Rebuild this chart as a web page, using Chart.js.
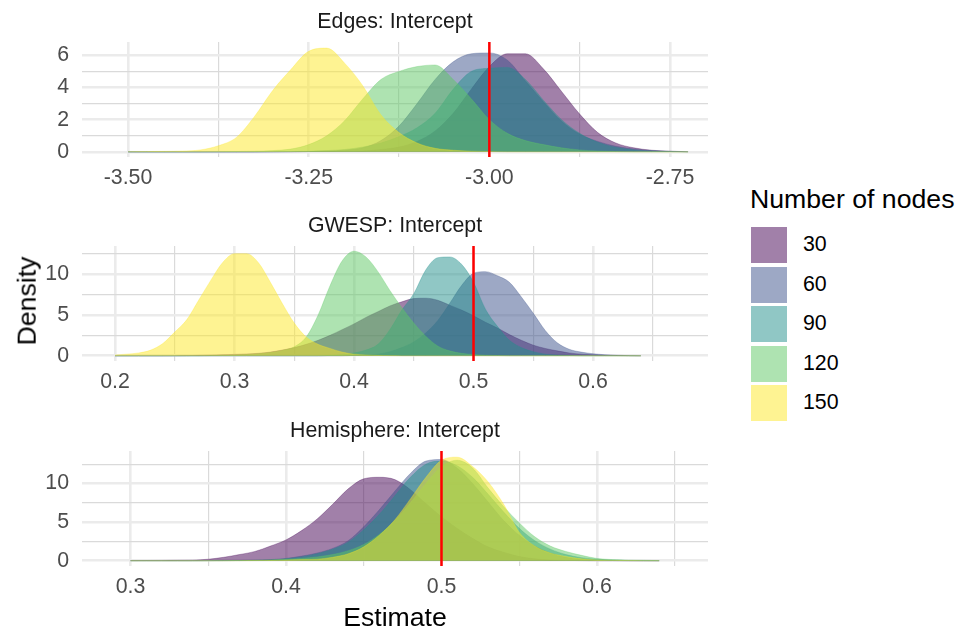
<!DOCTYPE html>
<html>
<head>
<meta charset="utf-8">
<script src="https://cdn.jsdelivr.net/npm/chart.js@4.4.3/dist/chart.umd.min.js"></script>
<style>
  body { margin: 0; background: #fff; font-family: "Liberation Sans", Arial, sans-serif; }
  #wrap { position: relative; width: 968px; height: 635px; overflow: hidden; }
  .panel { position: absolute; left: 0; width: 708px; height: 188px; }
  .lbl { position: absolute; white-space: nowrap; line-height: 1; color: #000; }
  .key { position: absolute; left: 751px; width: 36px; height: 36px; }
</style>
</head>
<body>
<div id="wrap">
  <div class="panel" style="top:9px"><canvas id="c0"></canvas></div>
  <div class="panel" style="top:213px"><canvas id="c1"></canvas></div>
  <div class="panel" style="top:418px"><canvas id="c2"></canvas></div>
  <div class="lbl" style="left:27px;top:301px;font-size:26.67px;transform:translate(-50%,-50%) rotate(-90deg)">Density</div>
  <div class="lbl" style="left:395px;top:617px;font-size:26.67px;transform:translate(-50%,-50%)">Estimate</div>
  <div class="lbl" style="left:750px;top:199px;font-size:26.67px;transform:translateY(-50%)">Number of nodes</div>
  <div id="legend"></div>
</div>
<script>
const FONT = '"Liberation Sans", Arial, sans-serif';

// groups (Number of nodes), viridis colours
const nodeCounts = ["30", "60", "90", "120", "150"];
const nodeColors = ["68,1,84", "59,82,139", "33,144,140", "93,200,99", "253,231,37"];
const facetTitles = ["Edges: Intercept", "GWESP: Intercept", "Hemisphere: Intercept"];
const trueValues = [-3.0, 0.5, 0.5];

// Edges: density curves
const edgesX = [-3.500, -3.475, -3.450, -3.425, -3.400, -3.375, -3.350, -3.325, -3.300, -3.275, -3.250,
  -3.225, -3.200, -3.175, -3.150, -3.125, -3.100, -3.075, -3.050, -3.025, -3.000, -2.975, -2.950,
  -2.925, -2.900, -2.875, -2.850, -2.825, -2.800, -2.775, -2.750, -2.725];
const edges30 = [0, 0, 0, 0, 0, 0, 0, 0, 0.01, 0.01, 0.02, 0.03, 0.04, 0.06, 0.15, 0.3, 0.65, 1.3, 2.4, 3.9,
  5.3, 6.1, 6.1, 5.15, 3.75, 2.35, 1.2, 0.55, 0.25, 0.1, 0.04, 0.01];
const edges60 = [0, 0, 0, 0, 0, 0, 0, 0, 0, 0.01, 0.02, 0.04, 0.1, 0.25, 0.7, 1.6, 3.0, 4.5, 5.6, 6.1,
  6.15, 5.7, 4.4, 3.1, 1.9, 1.1, 0.65, 0.35, 0.18, 0.08, 0.03, 0.01];
const edges90 = [0, 0, 0, 0, 0, 0, 0, 0, 0.01, 0.02, 0.04, 0.08, 0.15, 0.3, 0.55, 0.95, 1.5, 2.4, 3.9, 5.0,
  5.2, 5.25, 4.5, 3.2, 2.0, 1.15, 0.6, 0.28, 0.12, 0.05, 0.02, 0];
const edges120 = [0, 0, 0, 0, 0, 0.01, 0.02, 0.04, 0.08, 0.17, 0.45, 1.0, 1.95, 3.3, 4.5, 5.0, 5.3, 5.4,
  4.5, 3.3, 2.0, 1.15, 0.7, 0.45, 0.25, 0.12, 0.05, 0.02, 0, 0, 0, 0];
const edges150 = [0.01, 0.02, 0.03, 0.05, 0.12, 0.38, 0.9, 2.2, 3.8, 5.1, 6.25, 6.45, 5.5, 4.1, 2.3, 1.2,
  0.55, 0.22, 0.1, 0.04, 0.02, 0, 0, 0, 0, 0, 0, 0, 0, 0, 0, 0];

// GWESP: density curves
const gwespX = [0.20, 0.21, 0.22, 0.23, 0.24, 0.25, 0.26, 0.27, 0.28, 0.29, 0.30, 0.31, 0.32, 0.33, 0.34,
  0.35, 0.36, 0.37, 0.38, 0.39, 0.40, 0.41, 0.42, 0.43, 0.44, 0.45, 0.46, 0.47, 0.48, 0.49, 0.50, 0.51,
  0.52, 0.53, 0.54, 0.55, 0.56, 0.57, 0.58, 0.59, 0.60, 0.61, 0.62, 0.63, 0.64];
const gwesp30 = [0, 0, 0, 0, 0, 0.01, 0.02, 0.05, 0.08, 0.12, 0.17, 0.22, 0.3, 0.45, 0.7, 1.0, 1.4, 1.9,
  2.5, 3.2, 3.9, 4.7, 5.4, 6.1, 6.6, 7.0, 7.05, 6.8, 6.2, 5.6, 4.9, 4.1, 3.4, 2.6, 1.9, 1.3, 0.9, 0.6,
  0.35, 0.2, 0.12, 0.06, 0.03, 0.01, 0];
const gwesp60 = [0, 0, 0, 0, 0, 0, 0, 0, 0, 0, 0, 0, 0, 0, 0, 0, 0, 0, 0, 0, 0.05, 0.1, 0.2, 0.5, 1.0, 1.7,
  2.8, 4.3, 6.4, 8.6, 10.1, 10.3, 9.8, 9.0, 7.2, 5.2, 3.1, 1.6, 0.8, 0.45, 0.25, 0.12, 0.06, 0.02, 0];
const gwesp90 = [0, 0, 0, 0, 0, 0, 0, 0, 0, 0, 0, 0, 0, 0, 0, 0, 0, 0, 0.05, 0.15, 0.35, 0.7, 1.4, 3.2,
  5.6, 7.6, 10.5, 12.0, 12.1, 11.2, 9.0, 5.7, 3.6, 1.9, 1.0, 0.5, 0.2, 0.08, 0.03, 0, 0, 0, 0, 0, 0];
const gwesp120 = [0, 0, 0, 0, 0, 0, 0, 0, 0.03, 0.06, 0.1, 0.15, 0.25, 0.4, 0.65, 1.1, 2.3, 5.0, 8.6,
  11.6, 12.8, 12.1, 10.3, 8.0, 5.9, 4.0, 2.4, 1.2, 0.6, 0.3, 0.15, 0.07, 0.03, 0, 0, 0, 0, 0, 0, 0, 0,
  0, 0, 0, 0];
const gwesp150 = [0.1, 0.2, 0.35, 0.7, 1.5, 2.9, 4.4, 6.8, 9.2, 11.4, 12.5, 12.5, 11.4, 9.0, 6.4, 4.0, 2.3,
  1.4, 0.9, 0.45, 0.2, 0.1, 0.05, 0.02, 0, 0, 0, 0, 0, 0, 0, 0, 0, 0, 0, 0, 0, 0, 0, 0, 0, 0, 0, 0, 0];

// Hemisphere: density curves
const hemiX = [0.30, 0.31, 0.32, 0.33, 0.34, 0.35, 0.36, 0.37, 0.38, 0.39, 0.40, 0.41, 0.42, 0.43, 0.44,
  0.45, 0.46, 0.47, 0.48, 0.49, 0.50, 0.51, 0.52, 0.53, 0.54, 0.55, 0.56, 0.57, 0.58, 0.59, 0.60, 0.61,
  0.62, 0.63, 0.64];
const hemi30 = [0.02, 0.03, 0.04, 0.06, 0.08, 0.2, 0.45, 0.8, 1.2, 1.9, 2.7, 3.9, 5.4, 7.3, 9.3, 10.6,
  10.8, 10.5, 9.2, 7.4, 5.7, 4.2, 2.9, 1.8, 1.1, 0.55, 0.25, 0.1, 0.04, 0.02, 0, 0, 0, 0, 0];
const hemi60 = [0, 0, 0, 0, 0, 0.01, 0.02, 0.03, 0.05, 0.15, 0.3, 0.6, 1.0, 1.6, 2.6, 4.4, 6.6, 9.0, 11.3,
  12.9, 13.1, 12.0, 10.0, 7.6, 5.2, 3.3, 1.9, 1.0, 0.45, 0.2, 0.08, 0.03, 0, 0, 0];
const hemi90 = [0, 0, 0, 0, 0, 0.01, 0.02, 0.03, 0.05, 0.1, 0.25, 0.5, 0.9, 1.5, 2.4, 4.0, 6.0, 8.4, 10.8,
  12.5, 12.9, 12.3, 10.8, 8.6, 6.3, 4.2, 2.6, 1.5, 0.8, 0.4, 0.2, 0.08, 0.03, 0.01, 0];
const hemi120 = [0, 0, 0, 0, 0, 0, 0.01, 0.02, 0.05, 0.1, 0.2, 0.3, 0.5, 0.8, 1.3, 2.1, 3.4, 5.2, 7.5,
  10.0, 12.2, 13.0, 12.0, 9.4, 7.0, 4.9, 3.1, 1.9, 1.2, 0.7, 0.3, 0.15, 0.08, 0.05, 0.02];
const hemi150 = [0, 0, 0, 0, 0, 0, 0, 0.01, 0.02, 0.05, 0.1, 0.15, 0.2, 0.45, 0.9, 1.8, 3.3, 5.3, 8.0,
  10.8, 13.0, 13.4, 12.2, 10.2, 7.3, 3.7, 1.9, 1.0, 0.55, 0.25, 0.1, 0.04, 0.02, 0, 0];

// tick values / labels
const edgesXTicks = [-3.5, -3.25, -3.0, -2.75];
const edgesXLabels = ["-3.50", "-3.25", "-3.00", "-2.75"];
const edgesYTicks = [0, 2, 4, 6];
const gwespXTicks = [0.2, 0.3, 0.4, 0.5, 0.6];
const gwespXLabels = ["0.2", "0.3", "0.4", "0.5", "0.6"];
const gwespYTicks = [0, 5, 10];
const hemiXTicks = [0.3, 0.4, 0.5, 0.6];
const hemiXLabels = ["0.3", "0.4", "0.5", "0.6"];
const hemiYTicks = [0, 5, 10];

const panels = [
  { x: edgesX, series: [edges30, edges60, edges90, edges120, edges150],
    xRange: [-3.5637, -2.6974], yRange: [-0.32, 6.83],
    xTicks: edgesXTicks, xLabels: edgesXLabels, yTicks: edgesYTicks },
  { x: gwespX, series: [gwesp30, gwesp60, gwesp90, gwesp120, gwesp150],
    xRange: [0.1724, 0.6962], yRange: [-0.64, 13.44],
    xTicks: gwespXTicks, xLabels: gwespXLabels, yTicks: gwespYTicks },
  { x: hemiX, series: [hemi30, hemi60, hemi90, hemi120, hemi150],
    xRange: [0.2688, 0.6714], yRange: [-0.68, 14.2],
    xTicks: hemiXTicks, xLabels: hemiXLabels, yTicks: hemiYTicks },
];

function minorsOf(major, min, max) {
  const step = major[1] - major[0];
  const out = [];
  for (let v = major[0] - step / 2; v <= max + 1e-9; v += step) {
    if (v >= min) out.push(+v.toFixed(6));
  }
  return out;
}
const isIn = (v, arr) => arr.findIndex((m) => Math.abs(m - v) < 1e-6);

const facetTitle = {
  id: "facetTitle",
  afterDraw(chart, args, opts) {
    const { ctx, chartArea } = chart;
    ctx.save();
    ctx.font = `21.33px ${FONT}`;
    ctx.fillStyle = "#1A1A1A";
    ctx.textAlign = "center";
    ctx.textBaseline = "middle";
    ctx.fillText(opts.text, (chartArea.left + chartArea.right) / 2, chartArea.top - 20);
    ctx.restore();
  },
};

const trueLine = {
  id: "trueLine",
  afterDatasetsDraw(chart, args, opts) {
    const { ctx, chartArea } = chart;
    const px = chart.scales.x.getPixelForValue(opts.value);
    ctx.save();
    ctx.strokeStyle = "#FF0000";
    ctx.lineWidth = 2.5;
    ctx.beginPath();
    ctx.moveTo(px, chartArea.top);
    ctx.lineTo(px, chartArea.bottom);
    ctx.stroke();
    ctx.restore();
  },
};

function gridStyle(majors) {
  return {
    drawTicks: false,
    color: (c) => (isIn(c.tick.value, majors) >= 0 ? "#EBEBEB" : "#DADADA"),
    lineWidth: (c) => (isIn(c.tick.value, majors) >= 0 ? 2.6 : 1.2),
  };
}

panels.forEach((p, k) => {
  const xMinor = minorsOf(p.xTicks, p.xRange[0], p.xRange[1]);
  const yMinor = minorsOf(p.yTicks, p.yRange[0], p.yRange[1]);
  const xAll = [...p.xTicks, ...xMinor].sort((a, b) => a - b);
  const yAll = [...p.yTicks, ...yMinor].sort((a, b) => a - b);

  const datasets = p.series.map((vals, i) => ({
    label: nodeCounts[i],
    data: p.x.map((xv, j) => ({ x: xv, y: vals[j] })),
    backgroundColor: `rgba(${nodeColors[i]},0.5)`,
    borderColor: `rgba(${nodeColors[i]},0.5)`,
    borderWidth: 0.6,
    fill: "origin",
    pointRadius: 0,
    cubicInterpolationMode: "monotone",
    order: 5 - i,
  }));

  new Chart(document.getElementById("c" + k), {
    type: "line",
    data: { datasets },
    plugins: [facetTitle, trueLine],
    options: {
      responsive: true,
      maintainAspectRatio: false,
      animation: false,
      events: [],
      layout: { padding: { top: 33, left: 0, right: 0, bottom: 0 } },
      plugins: {
        legend: { display: false },
        tooltip: { enabled: false },
        facetTitle: { text: facetTitles[k] },
        trueLine: { value: trueValues[k] },
      },
      scales: {
        x: {
          type: "linear",
          bounds: "data",
          min: p.xRange[0],
          max: p.xRange[1],
          afterBuildTicks: (s) => { s.ticks = xAll.map((v) => ({ value: v })); },
          afterFit: (s) => {
            s.height = 40;
            s.paddingLeft = 0; s.paddingRight = 0; s.paddingTop = 0; s.paddingBottom = 0;
          },
          ticks: {
            autoSkip: false,
            maxRotation: 0,
            padding: 8,
            color: "#4D4D4D",
            font: { family: FONT, size: 21.33 },
            callback: (v) => { const i = isIn(v, p.xTicks); return i >= 0 ? p.xLabels[i] : ""; },
          },
          grid: gridStyle(p.xTicks),
          border: { display: false },
        },
        y: {
          type: "linear",
          bounds: "data",
          min: p.yRange[0],
          max: p.yRange[1],
          afterBuildTicks: (s) => { s.ticks = yAll.map((v) => ({ value: v })); },
          afterFit: (s) => {
            s.width = 82;
            s.paddingLeft = 0; s.paddingRight = 0; s.paddingTop = 0; s.paddingBottom = 0;
          },
          ticks: {
            autoSkip: false,
            padding: 13,
            color: "#4D4D4D",
            font: { family: FONT, size: 21.33 },
            callback: (v) => (isIn(v, p.yTicks) >= 0 ? String(v) : ""),
          },
          grid: gridStyle(p.yTicks),
          border: { display: false },
        },
      },
    },
  });
});

// legend keys
const legend = document.getElementById("legend");
nodeCounts.forEach((n, i) => {
  const top = 227 + i * 39.5;
  const key = document.createElement("div");
  key.className = "key";
  key.style.top = top + "px";
  key.style.background = `rgba(${nodeColors[i]},0.5)`;
  legend.appendChild(key);
  const t = document.createElement("div");
  t.className = "lbl";
  t.style.left = "803px";
  t.style.top = top + 18 + "px";
  t.style.fontSize = "21.33px";
  t.style.transform = "translateY(-50%)";
  t.textContent = n;
  legend.appendChild(t);
});
</script>
</body>
</html>
